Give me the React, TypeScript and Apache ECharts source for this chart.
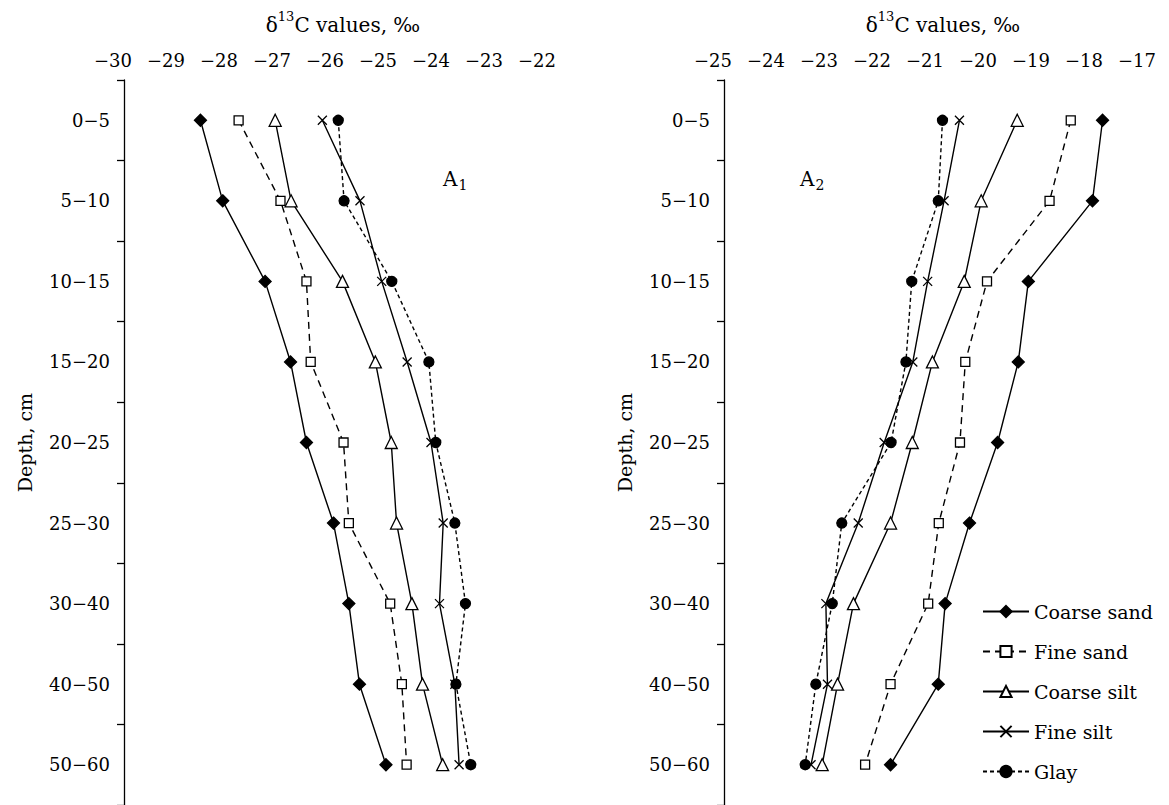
import React, { useEffect, useRef } from "react";
import * as echarts from "echarts";

const FONT = "DejaVu Serif";

const depthLabels = ["0−5", "5−10", "10−15", "15−20", "20−25", "25−30", "30−40", "40−50", "50−60"];
const seriesNames = ["Coarse sand", "Fine sand", "Coarse silt", "Fine silt", "Glay"];

// Panel A1
const a1XMin = -30;
const a1XMax = -22;
const a1CoarseSand = [-28.35, -27.93, -27.13, -26.65, -26.35, -25.84, -25.55, -25.35, -24.85];
const a1FineSand = [-27.63, -26.84, -26.35, -26.27, -25.65, -25.55, -24.77, -24.55, -24.46];
const a1CoarseSilt = [-26.94, -26.64, -25.67, -25.05, -24.75, -24.65, -24.36, -24.16, -23.78];
const a1FineSilt = [-26.05, -25.34, -24.93, -24.45, -24.0, -23.77, -23.84, -23.55, -23.47];
const a1Glay = [-25.75, -25.64, -24.74, -24.04, -23.91, -23.55, -23.35, -23.53, -23.25];

// Panel A2
const a2XMin = -25;
const a2XMax = -17;
const a2CoarseSand = [-17.65, -17.84, -19.05, -19.24, -19.63, -20.16, -20.62, -20.75, -21.65];
const a2FineSand = [-18.25, -18.65, -19.83, -20.24, -20.34, -20.74, -20.94, -21.65, -22.13];
const a2CoarseSilt = [-19.26, -19.94, -20.26, -20.86, -21.24, -21.65, -22.35, -22.65, -22.94];
const a2FineSilt = [-20.35, -20.64, -20.95, -21.23, -21.77, -22.26, -22.87, -22.84, -23.15];
const a2Glay = [-20.67, -20.75, -21.25, -21.36, -21.64, -22.57, -22.75, -23.06, -23.26];

const styles = [
  { symbol: "diamond", symbolSize: 12, fill: "#000", dash: "solid" as any },
  { symbol: "rect", symbolSize: 9, fill: "#fff", dash: [7, 5] as any },
  { symbol: "triangle", symbolSize: 12, fill: "#fff", dash: "solid" as any },
  { symbol: "path://M0,0L10,10M0,10L10,0", symbolSize: 9, fill: "rgba(0,0,0,0)", dash: "solid" as any },
  { symbol: "circle", symbolSize: 10, fill: "#000", dash: [4, 3] as any },
];

const panels = [
  { xMin: a1XMin, xMax: a1XMax, left: 113, values: [a1CoarseSand, a1FineSand, a1CoarseSilt, a1FineSilt, a1Glay] },
  { xMin: a2XMin, xMax: a2XMax, left: 713, values: [a2CoarseSand, a2FineSand, a2CoarseSilt, a2FineSilt, a2Glay] },
];

function buildOption(): any {
  const grid = panels.map((p) => ({ left: p.left, top: 80, width: (p.xMax - p.xMin) * 53, height: 726 }));
  const xAxis = panels.map((p, i) => ({
    gridIndex: i,
    type: "value",
    position: "top",
    min: p.xMin,
    max: p.xMax,
    interval: 1,
    axisLine: { show: false },
    axisTick: { show: false },
    splitLine: { show: false },
    axisLabel: {
      margin: 11,
      fontFamily: FONT,
      fontSize: 18,
      color: "#000",
      formatter: (v: number) => String(v).replace("-", "−"),
    },
    name: "{n|δ}{s|13}{n|C values, ‰}",
    nameLocation: "middle",
    nameGap: 45,
    nameTextStyle: {
      padding: [0, 0, 0, 36],
      rich: {
        n: { fontFamily: FONT, fontSize: 20, color: "#000", verticalAlign: "top", padding: [5, 0, 0, 0] },
        s: { fontFamily: FONT, fontSize: 13, color: "#000", verticalAlign: "top" },
      },
    },
  }));
  const yAxis = panels.map((p, i) => ({
    gridIndex: i,
    type: "category",
    inverse: true,
    data: depthLabels,
    offset: -11,
    axisLine: { show: true, onZero: false, lineStyle: { color: "#000", width: 1.3 } },
    axisTick: { show: true, length: 7, interval: 0, lineStyle: { color: "#000", width: 1.3 } },
    axisLabel: { interval: 0, margin: 14, fontFamily: FONT, fontSize: 18, color: "#000" },
    splitLine: { show: false },
    name: "Depth, cm",
    nameLocation: "middle",
    nameGap: 90,
    nameTextStyle: { fontFamily: FONT, fontSize: 19, color: "#000" },
  }));
  const series: any[] = [];
  panels.forEach((p, pi) => {
    seriesNames.forEach((name, si) => {
      const st = styles[si];
      series.push({
        type: "line",
        name,
        xAxisIndex: pi,
        yAxisIndex: pi,
        data: p.values[si].map((v, k) => [v, depthLabels[k]]),
        symbol: st.symbol,
        symbolSize: st.symbolSize,
        showSymbol: true,
        lineStyle: { color: "#000", width: 1.4, type: st.dash },
        itemStyle: { color: st.fill, borderColor: "#000", borderWidth: 1.3 },
        emphasis: { disabled: true },
        z: 2 + si,
      });
    });
  });
  return {
    animation: false,
    backgroundColor: "#fff",
    grid,
    xAxis,
    yAxis,
    series,
    legend: {
      orient: "vertical",
      left: 977,
      top: 597,
      itemWidth: 46,
      itemHeight: 14,
      itemGap: 21,
      data: seriesNames,
      textStyle: { fontFamily: FONT, fontSize: 19, color: "#000" },
    },
    graphic: [
      {
        type: "text",
        left: 443,
        top: 169,
        style: {
          text: "{a|A}{b|1}",
          rich: {
            a: { fontFamily: FONT, fontSize: 20, fill: "#000", verticalAlign: "top" },
            b: { fontFamily: FONT, fontSize: 14, fill: "#000", verticalAlign: "top", padding: [9, 0, 0, 1] },
          },
        },
      },
      {
        type: "text",
        left: 800,
        top: 169,
        style: {
          text: "{a|A}{b|2}",
          rich: {
            a: { fontFamily: FONT, fontSize: 20, fill: "#000", verticalAlign: "top" },
            b: { fontFamily: FONT, fontSize: 14, fill: "#000", verticalAlign: "top", padding: [9, 0, 0, 1] },
          },
        },
      },
    ],
  };
}

export default function App() {
  const ref = useRef<HTMLDivElement>(null);
  useEffect(() => {
    const chart = echarts.init(ref.current!, null, { renderer: "svg" });
    chart.setOption(buildOption());
    return () => chart.dispose();
  }, []);
  return <div ref={ref} style={{ position: "absolute", left: 0, top: 0, width: 1169, height: 805 }} />;
}
